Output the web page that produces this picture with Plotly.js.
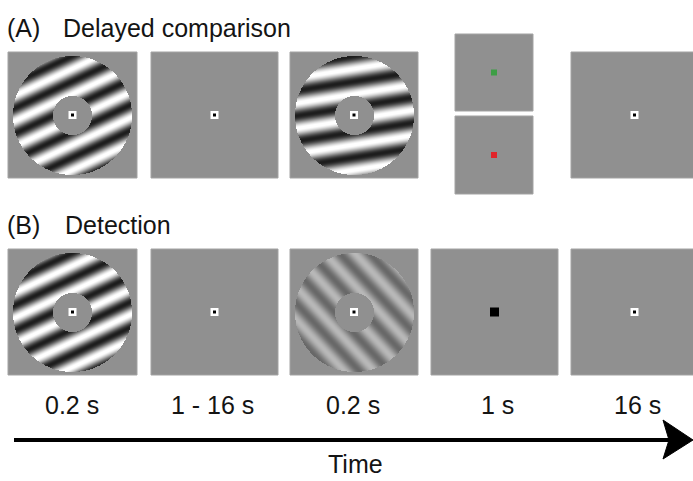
<!DOCTYPE html>
<html>
<head>
<meta charset="utf-8">
<script src="https://cdn.plot.ly/plotly-3.0.1.min.js"></script>
<style>html,body{margin:0;padding:0;background:#fff;}#chart{width:693px;height:481px;}</style>
</head>
<body>
<div id="chart"></div>
<script>
// ---- content ----
const rowLetters = ['(A)', '(B)'];
const rowTitles = ['Delayed comparison', 'Detection'];
const durationLabels = ['0.2 s', '1 - 16 s', '0.2 s', '1 s', '16 s'];
const axisLabel = 'Time';

// stimulus descriptions: [row, panel] -> grating orientation (deg, rising to right), contrast
const gratingPanels = [[0, 0], [0, 2], [1, 0], [1, 2]];
const gratingOrientations = [25, 9, 25, -47];
const gratingContrasts = [0.92, 0.92, 0.92, 0.32];
const gratingPeriods = [23, 25, 23, 22];

// ---- layout geometry (pixels) ----
const W = 693, H = 481;
const panelX0 = [8, 151, 290, 431, 571];
const panelX1 = [137, 278, 418, 558, 700];
const rowY0 = [52, 249];
const rowY1 = [178, 375];
const smallPanelX = [455, 533];
const smallPanelY = [[34, 111], [116, 194]];
const cueColors = ['#3d9e45', '#e0252a'];
const bg = 144; // panel grey level
const outerR = 60, innerR = 19.5;

const shapes = [];
const traces = [];
const annotations = [];

function rect(x0, y0, x1, y1) {
  shapes.push({type: 'rect', xref: 'x', yref: 'y', x0: x0, x1: x1, y0: y0, y1: y1,
    fillcolor: 'rgb(' + bg + ',' + bg + ',' + bg + ')', line: {color: '#a3a3a3', width: 1}, layer: 'below'});
}

// panels
for (let r = 0; r < 2; r++) {
  for (let p = 0; p < 5; p++) {
    if (r === 0 && p === 3) continue;
    rect(panelX0[p], rowY0[r], panelX1[p], rowY1[r]);
  }
}
smallPanelY.forEach(function (yy) { rect(smallPanelX[0], yy[0], smallPanelX[1], yy[1]); });

// gratings as heatmaps
gratingPanels.forEach(function (rp, k) {
  const cx = (panelX0[rp[1]] + panelX1[rp[1]]) / 2;
  const cy = (rowY0[rp[0]] + rowY1[rp[0]]) / 2;
  const th = gratingOrientations[k] * Math.PI / 180;
  const nx = Math.sin(th), ny = Math.cos(th);
  const amp = gratingContrasts[k] * 125;
  const xs = [], ys = [], z = [];
  for (let i = -outerR; i <= outerR; i++) xs.push(cx + i);
  for (let j = -outerR; j <= outerR; j++) {
    ys.push(cy + j);
    const row = [];
    for (let i = -outerR; i <= outerR; i++) {
      const d = Math.sqrt(i * i + j * j);
      if (d > outerR - 0.5 || d < innerR) { row.push(null); continue; }
      const u = i * nx + j * ny;
      row.push(bg + amp * Math.sin(2 * Math.PI * u / gratingPeriods[k] + 0.6));
    }
    z.push(row);
  }
  traces.push({type: 'heatmap', x: xs, y: ys, z: z, zmin: 0, zmax: 255,
    colorscale: [[0, '#000000'], [1, '#ffffff']], showscale: false, hoverinfo: 'skip', zsmooth: false});
});

// fixation points
const fixX = [], fixY = [];
for (let r = 0; r < 2; r++) {
  for (let p = 0; p < 5; p++) {
    if (p === 3) continue;
    const cx = p === 4 ? 634.5 : (panelX0[p] + panelX1[p]) / 2;
    fixX.push(cx); fixY.push((rowY0[r] + rowY1[r]) / 2);
  }
}
traces.push({type: 'scatter', mode: 'markers', x: fixX, y: fixY, hoverinfo: 'skip',
  marker: {symbol: 'square', size: 8, color: '#ffffff', line: {width: 0}}});
traces.push({type: 'scatter', mode: 'markers', x: fixX, y: fixY, hoverinfo: 'skip',
  marker: {symbol: 'square', size: 3, color: '#000000', line: {width: 0}}});
// detection response cue
traces.push({type: 'scatter', mode: 'markers', x: [(panelX0[3] + panelX1[3]) / 2], y: [(rowY0[1] + rowY1[1]) / 2],
  hoverinfo: 'skip', marker: {symbol: 'square', size: 9, color: '#000000', line: {width: 0}}});
// comparison response cues
traces.push({type: 'scatter', mode: 'markers',
  x: [(smallPanelX[0] + smallPanelX[1]) / 2, (smallPanelX[0] + smallPanelX[1]) / 2],
  y: [(smallPanelY[0][0] + smallPanelY[0][1]) / 2, (smallPanelY[1][0] + smallPanelY[1][1]) / 2],
  hoverinfo: 'skip', marker: {symbol: 'square', size: 6, color: cueColors, line: {width: 0}}});

// text
const font = {family: 'Liberation Sans, Arial, Helvetica, sans-serif', size: 25, color: '#141414'};
const titleY = [28, 225];
const titleX = [61, 63];
for (let r = 0; r < 2; r++) {
  annotations.push({xref: 'x', yref: 'y', x: 5, y: titleY[r], text: rowLetters[r], showarrow: false,
    xanchor: 'left', yanchor: 'middle', font: font});
  annotations.push({xref: 'x', yref: 'y', x: titleX[r], y: titleY[r], text: rowTitles[r], showarrow: false,
    xanchor: 'left', yanchor: 'middle', font: font});
}
const durX = [72, 212, 353, 497, 637];
durationLabels.forEach(function (t, i) {
  annotations.push({xref: 'x', yref: 'y', x: durX[i], y: 405, text: t, showarrow: false,
    xanchor: 'center', yanchor: 'middle', font: font});
});
annotations.push({xref: 'x', yref: 'y', x: 355, y: 464, text: axisLabel, showarrow: false,
  xanchor: 'center', yanchor: 'middle', font: font});

// time arrow
shapes.push({type: 'line', xref: 'x', yref: 'y', x0: 14, x1: 670, y0: 440, y1: 440,
  line: {color: '#000', width: 4}});
shapes.push({type: 'path', xref: 'x', yref: 'y', path: 'M 663 420 L 693 440 L 663 459 L 669 440 Z',
  fillcolor: '#000', line: {color: '#000', width: 1}});

const layout = {
  width: W, height: H,
  margin: {l: 0, r: 0, t: 0, b: 0, pad: 0},
  paper_bgcolor: '#ffffff', plot_bgcolor: '#ffffff',
  showlegend: false,
  xaxis: {range: [0, W], visible: false, fixedrange: true},
  yaxis: {range: [H, 0], visible: false, fixedrange: true},
  shapes: shapes,
  annotations: annotations
};
Plotly.newPlot('chart', traces, layout, {staticPlot: true, displayModeBar: false});
</script>
</body>
</html>
